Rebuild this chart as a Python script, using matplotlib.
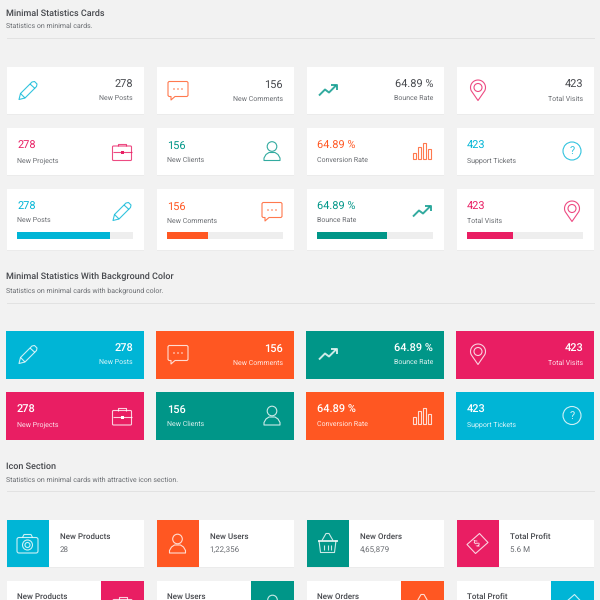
"""
Minimal statistics cards dashboard, drawn in pixel coordinates.
Output: out.png
"""

import matplotlib
matplotlib.use("Agg")
import matplotlib.pyplot as plt
from matplotlib.patches import Circle, FancyBboxPatch, Polygon, Rectangle
import numpy as np

# ── Data ─────────────────────────────────────────────────────────────────
TOP_VALUES = ["278", "156", "64.89 %", "423"]
TOP_LABELS = ["New Posts", "New Comments", "Bounce Rate", "Total Visits"]
MID_VALUES = ["278", "156", "64.89 %", "423"]
MID_LABELS = ["New Projects", "New Clients", "Conversion Rate", "Support Tickets"]
PROGRESS = [80, 35, 60, 40]
ICON_TITLES = ["New Products", "New Users", "New Orders", "Total Profit"]
ICON_VALUES = ["28", "1,22,356", "4,65,879", "5.6 M"]

SECTION_TITLES = ["Minimal Statistics Cards", "Minimal Statistics With Background Color", "Icon Section"]
SECTION_SUBS = ["Statistics on minimal cards.", "Statistics on minimal cards with background color.",
                "Statistics on minimal cards with attractive icon section."]

# ── Palette ──────────────────────────────────────────────────────────────
BG = "#f2f2f2"
CYAN = "#00b5d6"
ORANGE = "#ff5722"
TEAL = "#009688"
PINK = "#e91e63"
DARK = "#46484d"
MUTED = "#6a6d72"
TRACK = "#eeeeee"
RULE = "#e2e2e2"

TOP_COLORS = [CYAN, ORANGE, TEAL, PINK]
MID_COLORS = [PINK, TEAL, ORANGE, CYAN]

COLS = [6.5, 156.5, 306.5, 456.5]
CARD_W = 137.5

LABEL_SIZE = 5.2
VALUE_SIZE = 8.1
TITLE_SIZE = 6.8
SUB_SIZE = 5.2
ICON_TITLE_SIZE = 5.9

plt.rcParams["font.family"] = ["Roboto", "DejaVu Sans"]
plt.rcParams["text.hinting"] = "none"
plt.rcParams["text.hinting_factor"] = 1

fig = plt.figure(figsize=(6, 6), dpi=100, facecolor=BG)
ax = fig.add_axes([0, 0, 1, 1])
ax.set_xlim(0, 600)
ax.set_ylim(600, 0)
ax.axis("off")

LW = 0.8
ICON_ALPHA = 0.8


# ── helpers ──────────────────────────────────────────────────────────────
def card(x, y, w, h, color="white"):
    if color == "white":
        ax.add_patch(Rectangle((x, y + 1), w, h, facecolor="#ebebeb", edgecolor="none", zorder=1))
    ax.add_patch(Rectangle((x, y), w, h, facecolor=color, edgecolor="none", zorder=2))


def label(x, y, s, color=MUTED, size=LABEL_SIZE, ha="left", weight="normal"):
    ax.text(x, y, s, color=color, fontsize=size, ha=ha, va="center", fontweight=weight, zorder=5)


def poly(cx, cy, pts, color, closed=True, lw=LW):
    pts = [(cx + a, cy + b) for a, b in pts]
    ax.add_patch(Polygon(pts, closed=closed, fill=False, edgecolor=color, lw=lw,
                         joinstyle="round", alpha=ICON_ALPHA, zorder=6))


def circ(cx, cy, r, color, fill=False, lw=LW):
    ax.add_patch(Circle((cx, cy), r, fill=fill, facecolor=color if fill else None,
                        edgecolor=color, lw=lw, alpha=ICON_ALPHA, zorder=6))


def rrect(cx, cy, x, y, w, h, color, rad=1.5):
    ax.add_patch(FancyBboxPatch((cx + x, cy + y), w, h, boxstyle=f"round,pad=0,rounding_size={rad}",
                                fill=False, edgecolor=color, lw=LW, alpha=ICON_ALPHA, zorder=6))


# ── icons ────────────────────────────────────────────────────────────────
def pencil(cx, cy, c):
    poly(cx, cy, [(-9, 9), (-7.5, 3), (4, -8.5), (6.5, -9), (9, -6.5), (8.5, -4), (-3, 7.5)], c)
    poly(cx, cy, [(2, -6.5), (7, -2)], c, closed=False)
    poly(cx, cy, [(-7.5, 3), (-3, 7.5)], c, closed=False)


def chat(cx, cy, c):
    poly(cx, cy, [(-10, -8), (-9, -9), (9, -9), (10, -8), (10, 5), (9, 6), (-3, 6), (-7, 9.5), (-7, 6), (-9, 6), (-10, 5)], c)
    for dx in (-4, 0, 4):
        circ(cx + dx, cy - 1.5, 0.8, c, fill=True, lw=0)


def trend(cx, cy, c):
    poly(cx, cy, [(-9, 5), (-3, -1), (1, 2), (8, -5)], c, closed=False, lw=1.4)
    poly(cx, cy, [(3, -6), (9, -6), (9, -0.5)], c, closed=False, lw=1.4)


def pin(cx, cy, c):
    t = np.radians(np.arange(-205, 26, 10))
    arc = [(7.5 * np.cos(a), -3 + 7.5 * np.sin(a)) for a in t]
    poly(cx, cy, arc + [(0, 10)], c)
    circ(cx, cy - 3, 4, c)


def briefcase(cx, cy, c):
    rrect(cx, cy, -9.5, -5, 19, 14.5, c, rad=1)
    poly(cx, cy, [(-4, -5), (-4, -7.5), (4, -7.5), (4, -5)], c, closed=False)
    poly(cx, cy, [(-9.5, 1), (9.5, 1)], c, closed=False)
    ax.add_patch(Rectangle((cx - 1.5, cy), 3, 3, facecolor=c, edgecolor="none", zorder=6))


def person(cx, cy, c):
    circ(cx, cy - 4.5, 4.8, c)
    poly(cx, cy, [(-8, 9.5), (-8, 7), (-6, 3.5), (-3, 1.5), (3, 1.5), (6, 3.5), (8, 7), (8, 9.5)], c)


def bars(cx, cy, c):
    for x, top in [(-9.5, 1.5), (-4.5, -4.5), (0.5, -8), (5.5, -2)]:
        ax.add_patch(Rectangle((cx + x, cy + top), 3.8, 8 - top, fill=False, edgecolor=c, lw=LW,
                               alpha=ICON_ALPHA, zorder=6))


def question(cx, cy, c):
    circ(cx, cy, 9, c)
    ax.text(cx, cy + 0.3, "?", color=c, fontsize=8, ha="center", va="center", alpha=ICON_ALPHA, zorder=6)


def camera(cx, cy, c):
    rrect(cx, cy, -10.5, -6, 21, 15.5, c, rad=2)
    poly(cx, cy, [(-5, -6), (-3.5, -9), (3.5, -9), (5, -6)], c, closed=False)
    circ(cx, cy + 1.5, 5, c)
    circ(cx, cy + 1.5, 2.5, c)


def basket(cx, cy, c):
    poly(cx, cy, [(-10, -3), (10, -3)], c, closed=False, lw=1.4)
    poly(cx, cy, [(-8.5, -3), (-7, 9), (7, 9), (8.5, -3)], c, closed=False)
    poly(cx, cy, [(-5.5, -3), (-1.5, -10), (1.5, -10), (5.5, -3)], c, closed=False)
    for dx in (-3.5, 0, 3.5):
        poly(cx, cy, [(dx, 1), (dx, 6)], c, closed=False)


def money(cx, cy, c):
    poly(cx, cy, [(-10.5, 1), (2, -10), (10.5, -1), (-2, 10)], c)
    ax.text(cx, cy, "$", color=c, fontsize=6.5, ha="center", va="center", rotation=40, zorder=6)


def money_top(cx, cy, c):
    # only the upper corner of this icon is inside the picture
    poly(cx, cy, [(-10.5, 1), (2, -10), (10.5, -1), (-2, 10)], c)


TOP_ICONS = [pencil, chat, trend, pin]
MID_ICONS = [briefcase, person, bars, question]
SIDE_ICONS = [camera, person, basket, money]
LOWER_ICONS = [briefcase, person, basket, money_top]

# ── Section headers ──────────────────────────────────────────────────────
for title, sub, ty, sy, ry in zip(SECTION_TITLES, SECTION_SUBS, [13, 277, 466.5], [26.5, 291, 480], [38, 302.5, 491]):
    label(6.5, ty, title, color=DARK, size=TITLE_SIZE, weight="medium")
    label(6.5, sy, sub, size=SUB_SIZE)
    ax.plot([6.5, 594], [ry, ry], color=RULE, lw=0.7, zorder=2)

# ── Minimal cards ────────────────────────────────────────────────────────
for i, x in enumerate(COLS):
    c = TOP_COLORS[i]
    card(x, 67, CARD_W, 47)
    TOP_ICONS[i](x + 21.5, 90.5, c)
    label(x + 126.5, 85, TOP_VALUES[i], color=DARK, size=VALUE_SIZE, ha="right")
    label(x + 126.5, 99.5, TOP_LABELS[i], ha="right")

    c = MID_COLORS[i]
    card(x, 128, CARD_W, 47)
    MID_ICONS[i](x + 115.5, 151, c)
    label(x + 10.5, 146, MID_VALUES[i], color=c, size=VALUE_SIZE)
    label(x + 10.5, 160.5, MID_LABELS[i])

    c = TOP_COLORS[i]
    card(x, 189, CARD_W, 61)
    TOP_ICONS[i](x + 115.5, 211.5, c)
    label(x + 10.5, 207, TOP_VALUES[i], color=c, size=VALUE_SIZE)
    label(x + 10.5, 221.5, TOP_LABELS[i])
    ax.barh(235.5, 116, height=7, left=x + 10.5, color=TRACK, zorder=3)
    ax.barh(235.5, PROGRESS[i] * 116 / 100, height=7, left=x + 10.5, color=c, zorder=4)

# ── Background colour cards ──────────────────────────────────────────────
for i, x in enumerate(COLS):
    card(x - 0.5, 331, CARD_W + 0.5, 47.5, TOP_COLORS[i])
    TOP_ICONS[i](x + 21.5, 354.5, "white")
    label(x + 126.5, 349, TOP_VALUES[i], color="white", size=VALUE_SIZE, ha="right", weight="medium")
    label(x + 126.5, 363.5, TOP_LABELS[i], color="#ffffffdd", ha="right")

    card(x - 0.5, 392, CARD_W + 0.5, 47.5, MID_COLORS[i])
    MID_ICONS[i](x + 115.5, 415.5, "white")
    label(x + 10.5, 410, MID_VALUES[i], color="white", size=VALUE_SIZE, weight="medium")
    label(x + 10.5, 424.5, MID_LABELS[i], color="#ffffffdd")

# ── Icon section ─────────────────────────────────────────────────────────
for i, x in enumerate(COLS):
    card(x, 520, CARD_W, 47)
    card(x, 520, 42, 47, TOP_COLORS[i])
    SIDE_ICONS[i](x + 21, 543.5, "white")
    label(x + 53, 536.5, ICON_TITLES[i], color=DARK, size=ICON_TITLE_SIZE, weight="medium")
    label(x + 53, 549.5, ICON_VALUES[i], size=ICON_TITLE_SIZE)

    card(x, 581, CARD_W, 30)
    card(x + 94.5, 581, 43, 30, MID_COLORS[i])
    LOWER_ICONS[i](x + 116, 604.5, "white")
    label(x + 10.5, 596.5, ICON_TITLES[i], color=DARK, size=ICON_TITLE_SIZE, weight="medium")

fig.savefig("out.png", dpi=100, facecolor=BG)
